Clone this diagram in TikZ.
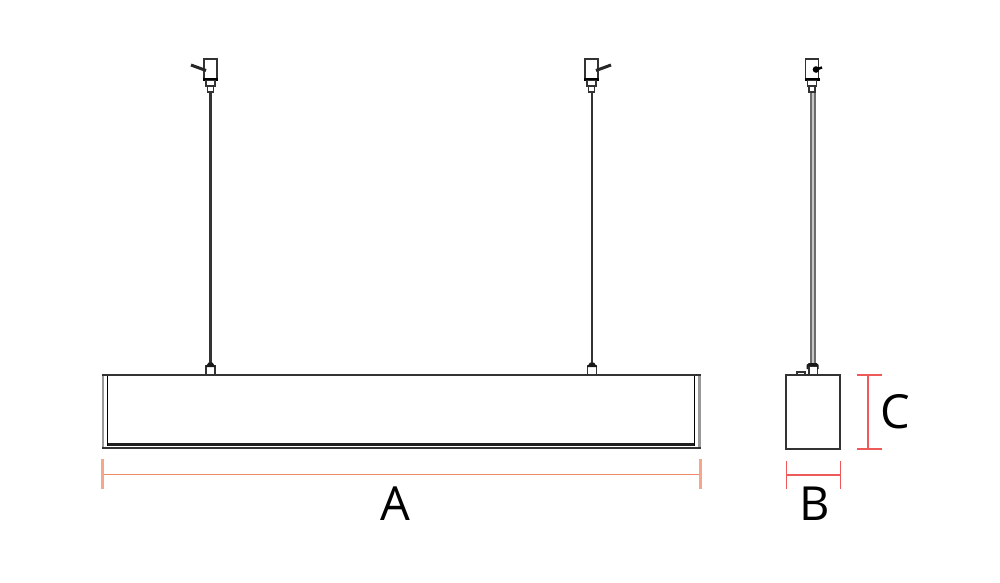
\documentclass[tikz,border=0pt]{standalone}
\usepackage{fontspec}
\setmainfont{Open Sans}
\definecolor{dimA}{HTML}{F08A68}
\definecolor{dimApale}{HTML}{F5A78C}
\definecolor{dimB}{HTML}{EE5A5A}
\definecolor{ink}{HTML}{333333}
\tikzset{
  outline/.style={draw=ink,line width=1.7pt,fill=white},
  thinbox/.style={draw=ink,line width=1.3pt,fill=white},
  lever/.style={draw=black!85,line width=3pt},
  dimline/.style={line width=1.5pt},
  dimtick/.style={line width=1.7pt},
  dimtext/.style={inner sep=0pt,text=black,font=\fontsize{47}{47}\selectfont}
}
\newcommand{\clampbody}[1]{%
  \draw[outline] (#1-6.5,59) rectangle (#1+6.5,79);
  \draw[draw=black,line width=2.6pt] (#1-7.5,79.5) -- (#1+7.5,79.5);
  \draw[thinbox] (#1-4.5,80.5) rectangle (#1+4.5,86);
  \draw[thinbox] (#1-3,86) rectangle (#1+3,92);
}
\newcommand{\tabtop}[1]{%
  \draw[thinbox] (#1-4.5,375) rectangle (#1+4.5,366);
  \fill[black!90] (#1-5,367) -- (#1-2,362.5) -- (#1+2,362.5) -- (#1+5,367) -- cycle;
}
\begin{document}
\begin{tikzpicture}[x=1pt,y=-1pt]
\useasboundingbox (0,0) rectangle (1000,582);
% suspension cables
\draw[draw=ink,line width=2.6pt] (210.5,92) -- (210.5,364);
\draw[draw=ink,line width=2.6pt] (592,92) -- (592,364);
\draw[draw=gray!85!black,line width=6pt] (812.5,92) -- (812.5,364);
\draw[draw=gray!45,line width=2pt] (812.5,92) -- (812.5,364);
% clamps
\clampbody{210.5}
\clampbody{591.5}
\clampbody{812}
\draw[lever] (191,65) -- (206,70.5);
\draw[lever] (611,65) -- (596,70.5);
\fill[black] (816,69.5) circle (3.3);
\draw[draw=black,line width=2.4pt] (816,69.5) -- (822,67.5);
% long body
\tabtop{210.5}
\tabtop{592}
\draw[draw=gray!80,line width=2pt] (103,375) -- (103,448);
\draw[draw=gray!80,line width=3pt] (699.5,375) -- (699.5,448);
\draw[draw=black,line width=1.4pt] (107.5,375) -- (107.5,446);
\draw[draw=black,line width=1.4pt] (694.5,375) -- (694.5,446);
\fill[black!88] (108,442.5) rectangle (694,446);
\draw[draw=ink,line width=1.5pt] (102,375) -- (701,375);
\draw[draw=ink,line width=1.5pt] (102,448) -- (701,448);
% side body
\draw[thinbox] (809,375) rectangle (817.5,366);
\fill[black!90] (806.5,369) -- (806.5,365) -- (809,363) -- (816.5,363) -- (818.5,365) -- (818.5,369) -- (817,369) -- (817,366) -- (808,366) -- (808,369) -- cycle;
\draw[draw=ink,line width=1.4pt,fill=white] (797,375) -- (797,372) -- (805,372) -- (805,375);
\draw[outline] (786,375) rectangle (840,449);
% dimension A
\draw[dimA,dimline] (102,474.5) -- (701,474.5);
\draw[dimApale,line width=2.2pt] (102.5,459) -- (102.5,489);
\draw[dimApale,line width=2.2pt] (700.5,459) -- (700.5,489);
% dimension B
\draw[dimB,dimline] (786,475) -- (840,475);
\draw[dimB,dimtick] (786.5,461) -- (786.5,489);
\draw[dimB,dimtick] (840.5,461) -- (840.5,489);
% dimension C
\draw[dimB,dimline] (868,375) -- (868,449);
\draw[dimB,dimtick] (857,375) -- (882,375);
\draw[dimB,dimtick] (857,449) -- (882,449);
\node[dimtext] (labelA) at (395,503.5) {A};
\node[dimtext] (labelB) at (814.5,503.5) {B};
\node[dimtext] (labelC) at (895,411.5) {C};
\end{tikzpicture}
\end{document}
